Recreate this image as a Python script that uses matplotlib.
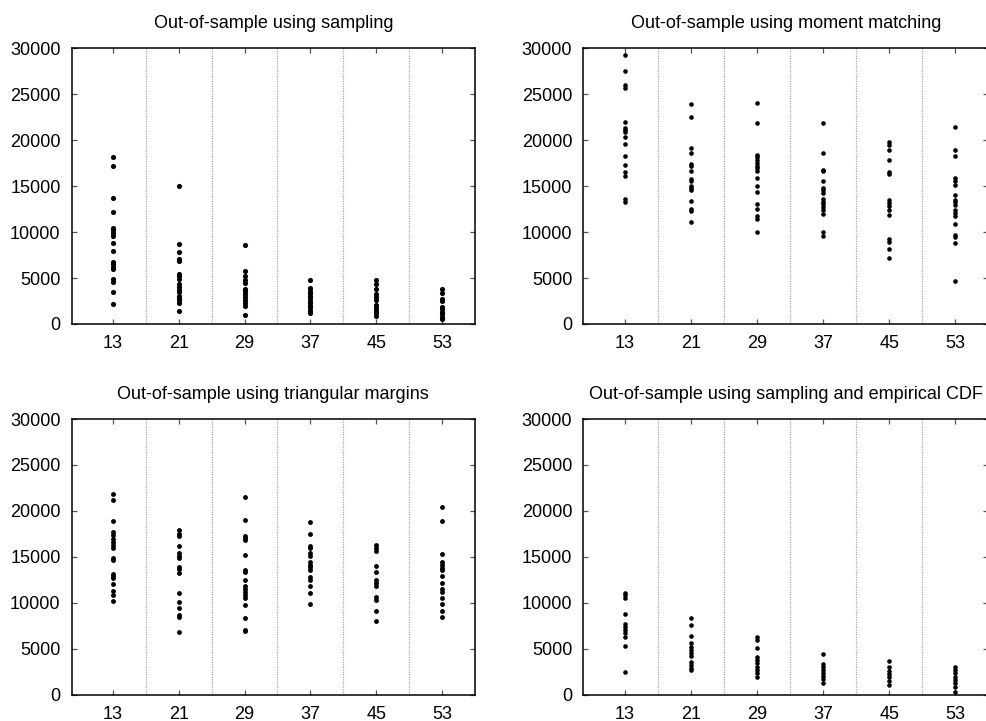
import matplotlib
matplotlib.use("Agg")
import matplotlib.pyplot as plt

plt.rcParams['font.family'] = ['Liberation Sans', 'DejaVu Sans']

groups = [13, 21, 29, 37, 45, 53]
separators = [17, 25, 33, 41, 49]
yticks = [0, 5000, 10000, 15000, 20000, 25000, 30000]

titles = [
    "Out-of-sample using sampling",
    "Out-of-sample using moment matching",
    "Out-of-sample using triangular margins",
    "Out-of-sample using sampling and empirical CDF",
]

sampling = [
    [18145, 17164, 13745, 12218, 10436, 10182, 9891, 9527, 8800, 7891, 6764, 6545, 6255, 6000, 4945, 4618, 3455, 2218],
    [15018, 8727, 7855, 7091, 6836, 5455, 5236, 4945, 4327, 4036, 3709, 3455, 3055, 2800, 2582, 2255, 1455],
    [8545, 5818, 5273, 4800, 4473, 3855, 3600, 3273, 2945, 2618, 2255, 1964, 945],
    [4836, 3891, 3636, 3345, 3055, 2800, 2545, 2255, 2000, 1709, 1455, 1164],
    [4800, 4327, 3855, 3236, 2909, 2618, 2073, 1782, 1455, 1164, 873],
    [3855, 3345, 2764, 2545, 1891, 1673, 1345, 1091, 800, 582],
]

moment_matching = [
    [29236, 27527, 25964, 25709, 21927, 21345, 21164, 20945, 20364, 19564, 18255, 17345, 16509, 16145, 13600, 13273],
    [23891, 22545, 19164, 18618, 17455, 17236, 16618, 15782, 15527, 14982, 14800, 14545, 13382, 12509, 12255, 11091],
    [24036, 21891, 18436, 18182, 17891, 17527, 17236, 16945, 16618, 15891, 14982, 14327, 13091, 12509, 11709, 11455, 10000],
    [21855, 18618, 16800, 16691, 15564, 14800, 14545, 14255, 13600, 13309, 13018, 12727, 12436, 12000, 9964, 9527],
    [19818, 19491, 18982, 17855, 16509, 16291, 13455, 13164, 12800, 12436, 11818, 9273, 8945, 8182, 7164],
    [21455, 18945, 18255, 15891, 15527, 15127, 14036, 13527, 13236, 12909, 12436, 12073, 11782, 10873, 9709, 9455, 8800, 4655],
]

triangular = [
    [21839, 21221, 18895, 17696, 17405, 16933, 16642, 16315, 15952, 14826, 14680, 13118, 12863, 12682, 12100, 11301, 10901, 10174],
    [17878, 17478, 17224, 16206, 15407, 15116, 14898, 13881, 13663, 13227, 11047, 10102, 9411, 8685, 8503, 6795],
    [21548, 19041, 17297, 17078, 16860, 15225, 13590, 13336, 12500, 11846, 11483, 11155, 10865, 10574, 9775, 8394, 7049, 6904],
    [18823, 17442, 16206, 15952, 15407, 15116, 14426, 14135, 13844, 13517, 12754, 12500, 11846, 11119, 9884],
    [16243, 15952, 15589, 13953, 13336, 12427, 12137, 11846, 10683, 10320, 9157, 8030],
    [20422, 18932, 15334, 14426, 14099, 13772, 13517, 12863, 12137, 11519, 11228, 10501, 9847, 9121, 8467],
]

empirical_cdf = [
    [11119, 10865, 10501, 8757, 7667, 7340, 7049, 6686, 6323, 5342, 2435],
    [8394, 7594, 6395, 5596, 5233, 4869, 4506, 4215, 3597, 3234, 2943, 2689],
    [6250, 5959, 5051, 4142, 3779, 3416, 3052, 2689, 2326, 1962],
    [4433, 3307, 3052, 2689, 2398, 2035, 1672, 1308],
    [3670, 2980, 2616, 2253, 1890, 1526, 1054],
    [3052, 2689, 2326, 1962, 1599, 1235, 872, 291],
]

datasets = [sampling, moment_matching, triangular, empirical_cdf]
marker_sizes = [3.7, 3.3, 3.5, 3.3]

W, H = 987, 721
fig = plt.figure(figsize=(W / 100, H / 100), dpi=100)

# axes boxes in pixels: (left, top, right, bottom)
boxes = [
    (71.7, 48.3, 475.0, 324.0),
    (583.3, 48.3, 988.5, 324.0),
    (71.7, 419.0, 475.0, 694.7),
    (583.3, 419.0, 988.5, 694.7),
]

for data, title, ms, (l, t, r, b) in zip(datasets, titles, marker_sizes, boxes):
    ax = fig.add_axes([l / W, 1 - b / H, (r - l) / W, (b - t) / H])
    for xs in separators:
        ax.axvline(xs, color='#a8a8a8', linestyle=(0, (1, 1)), linewidth=0.9, zorder=1)
    for g, vals in zip(groups, data):
        ax.plot([g] * len(vals), vals, 'o', color='black', markersize=ms,
                markeredgewidth=0, zorder=3, clip_on=False)
    ax.set_xlim(8, 57)
    ax.set_ylim(0, 30000)
    ax.set_xticks(groups)
    ax.set_xticklabels([str(g) for g in groups])
    ax.set_yticks(yticks)
    ax.set_yticklabels([str(v) for v in yticks])
    ax.tick_params(direction='in', length=3.5, width=0.9, color='#555555',
                   top=True, right=True, labelsize=13, pad=8, labelcolor='black')
    for s in ax.spines.values():
        s.set_linewidth(1.1)
        s.set_color('black')
    ax.set_title(title, fontsize=13, pad=14.5)

fig.savefig("out.png", dpi=100)
